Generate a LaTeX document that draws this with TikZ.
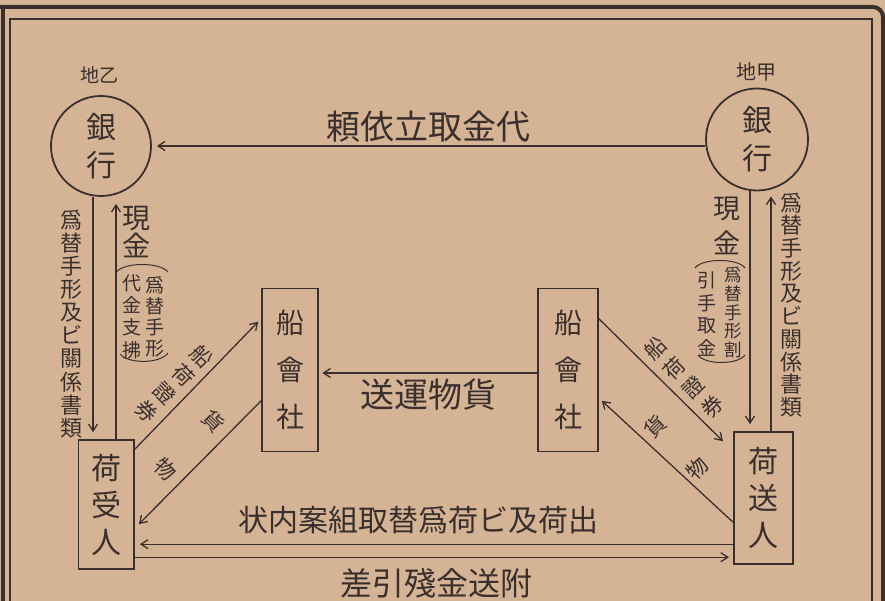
\documentclass[tikz,border=0pt]{standalone}
\usepackage{fontspec}
\setmainfont{Noto Sans CJK JP}
\usetikzlibrary{arrows.meta,calc}
\definecolor{paper}{RGB}{213,180,150}
\definecolor{ink}{RGB}{58,47,44}
\newcommand{\fs}[2]{\fontsize{#1}{#2}\selectfont}
\begin{document}
\begin{tikzpicture}[x=1pt,y=-1pt,
  every node/.style={text=ink, inner sep=0pt, align=center},
  bank/.style={draw=ink, circle, line width=1.8pt, font=\fs{30}{38}},
  party/.style={draw=ink, rectangle, line width=1.6pt, font=\fs{30}{37}},
  ship/.style={draw=ink, rectangle, line width=1.6pt, minimum height=163pt, font=\fs{28}{47}},
  flow/.style={draw=ink, line width=1.3pt, -{Straight Barb[length=7pt,width=9pt]}},
  bracket/.style={draw=ink, line width=1pt},
  frame/.style={draw=ink, line cap=butt}
]
\fill[paper] (0,0) rectangle (885,601);
\useasboundingbox (0,0) rectangle (885,601);
% frame
\draw[frame, line width=4pt, rounded corners=10pt] (0,7) -- (883,7) -- (883,601);
\draw[frame, line width=4pt] (3,9) -- (3,601);
\draw[frame, line width=2.6pt] (10,601) -- (10,19) -- (872,19) -- (872,601);

% banks
\node[bank, minimum size=100pt] (bL) at (101,146) {銀\\行};
\node[bank, minimum size=102pt] (bR) at (757,139.5) {銀\\行};
\node[font=\fs{19}{19}] (pL) at (99,75.5) {地乙};
\node[font=\fs{20}{20}] (pR) at (756,72) {地甲};

% parties
\node[party, minimum width=55.5pt, minimum height=129pt] (rcvr) at (106.3,504.5) {荷\\受\\人};
\node[party, minimum width=59pt, minimum height=132pt] (sndr) at (763.3,498) {荷\\送\\人};

% shipping companies
\node[ship, minimum width=56pt] (S1) at (290,370) {船\\會\\社};
\node[ship, minimum width=60pt] (S2) at (568,370) {船\\會\\社};

% top arrow
\draw[flow, shorten >=5pt] (bR.west |- bL.east) -- (bL.east);
\node[font=\fs{34}{34}] (tTop) at (428,127) {頼依立取金代};

% left verticals
\draw[flow, shorten >=7pt] ([xshift=-8pt]bL.south) -- ([xshift=-8pt]bL.south |- rcvr.north);
\draw[flow, shorten >=7pt] ([xshift=15pt]bL.south |- rcvr.north) -- ([xshift=15pt]bL.south);
\node[font=\fs{22}{23.1}] (lDocs) at (71.7,324) {爲\\替\\手\\形\\及\\ビ\\關\\係\\書\\類};
\node[font=\fs{28}{28.5}] (lCash) at (136.7,232) {現\\金};
\node[font=\fs{19}{21.1}] (lSub1) at (155,316.7) {爲\\替\\手\\形};
\node[font=\fs{19}{22.2}] (lSub2) at (131.7,316.7) {代\\金\\支\\拂};
\draw[bracket] (116.5,272) .. controls (124,262) and (160,262) .. (168,272);
\draw[bracket] (120,354) .. controls (128,364) and (160,364) .. (168,353);

% right verticals
\draw[flow, shorten >=7pt] ([xshift=-7pt]bR.south) -- ([xshift=-7pt]bR.south |- sndr.north);
\draw[flow, shorten >=5pt] ([xshift=14pt]bR.south |- sndr.north) -- ([xshift=14pt]bR.south);
\node[font=\fs{22}{22.7}] (rDocs) at (791.7,305) {爲\\替\\手\\形\\及\\ビ\\關\\係\\書\\類};
\node[font=\fs{27}{35}] (rCash) at (726.7,226) {現\\金};
\node[font=\fs{17.5}{18.75}] (rSub1) at (733.3,312.5) {爲\\替\\手\\形\\割};
\node[font=\fs{19}{22.8}] (rSub2) at (706.7,314) {引\\手\\取\\金};
\draw[bracket] (695,268) .. controls (702,258) and (738,258) .. (745,268);
\draw[bracket] (698,355) .. controls (705,365) and (738,365) .. (745,355);

% middle arrow
\draw[flow, shorten >=3.5pt] ([yshift=-3pt]S2.west) -- ([yshift=-3pt]S1.east);
\node[font=\fs{34}{34}] (tMid) at (428,395) {送運物貨};

% left diagonals
\draw[flow] ($(rcvr.north east)+(0,10)$) -- ($(S1.north west)+(-3,34)$);
\draw[flow] ($(S1.north west)+(0,113)$) -- ($(rcvr.north east)+(4,85)$);
\node[font=\fs{21}{26}, rotate=-45] (lBL) at (174,384) {船\\荷\\證\\券};
\node[font=\fs{21}{68}, rotate=-45] (lGd) at (190,445) {貨\\物};

% right diagonals
\draw[flow] ($(S2.north east)+(0,31)$) -- ($(sndr.north west)+(-10,10)$);
\draw[flow] ($(sndr.north west)+(0,91)$) -- ($(S2.north east)+(3,113)$);
\node[font=\fs{21}{27}, rotate=45] (rBL) at (683.5,377.5) {船\\荷\\證\\券};
\node[font=\fs{21}{59}, rotate=45] (rGd) at (676,447.5) {貨\\物};

% bottom arrows
\draw[flow] ($(sndr.north west)+(0,113)$) -- ($(rcvr.north east)+(5,105)$);
\draw[flow] ($(rcvr.north east)+(0,118)$) -- ($(sndr.north west)+(-4,126)$);
\node[font=\fs{30}{30}] (tAdv) at (418,520) {状内案組取替爲荷ビ及荷出};
\node[font=\fs{32}{32}] (tBal) at (436,583) {差引殘金送附};
\end{tikzpicture}
\end{document}
